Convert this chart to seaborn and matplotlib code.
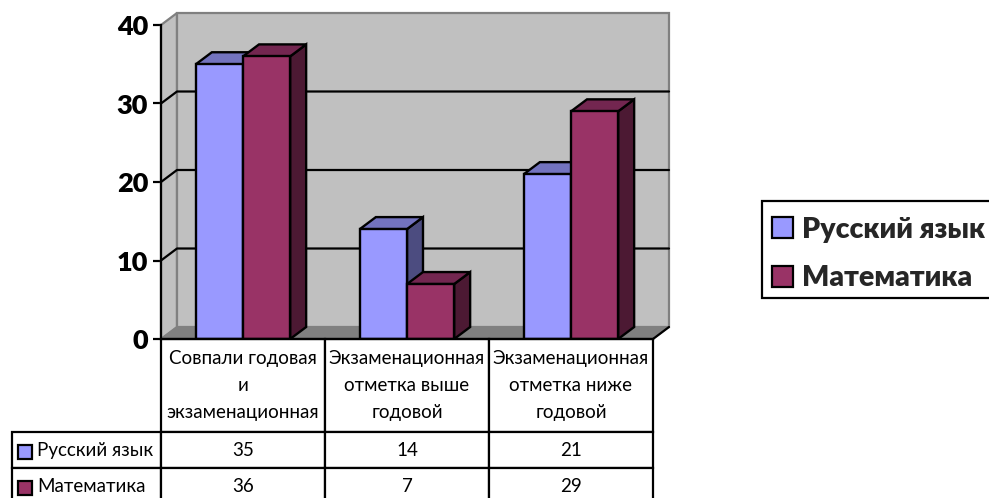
import pandas as pd
import seaborn as sns
import matplotlib.pyplot as plt
from matplotlib.patches import Polygon, Rectangle

# данные диаграммы
categories = ['Совпали годовая\nи\nэкзаменационная',
              'Экзаменационная\nотметка выше\nгодовой',
              'Экзаменационная\nотметка ниже\nгодовой']
series_names = ['Русский язык', 'Математика']
russian = [35, 14, 21]
math = [36, 7, 29]
y_ticks = [0, 10, 20, 30, 40]

W, H = 989, 498
FONT = ['Lato', 'Open Sans', 'DejaVu Sans']
front = {'Русский язык': '#9999ff', 'Математика': '#993366'}
top = {'Русский язык': '#7373bf', 'Математика': '#732650'}
side = {'Русский язык': '#4c4c80', 'Математика': '#4c1933'}

sns.set_theme(style='white')
plt.rcParams['font.family'] = FONT

df = pd.DataFrame({
    'cat': categories * 2,
    'val': russian + math,
    'ser': [series_names[0]] * 3 + [series_names[1]] * 3,
})

fig = plt.figure(figsize=(W / 100, H / 100), dpi=100, facecolor='white')
# пиксельная геометрия оси: x 161..653, y 339..25
AX_W, AX_H = 492, 314
ax = fig.add_axes([161 / W, 1 - 339 / H, AX_W / W, AX_H / H])
ax.patch.set_visible(False)

sns.barplot(data=df, x='cat', y='val', hue='ser', palette=front, saturation=1,
            width=0.575, gap=0, edgecolor='black', linewidth=1.7, ax=ax)
handles, labels = ax.get_legend_handles_labels()
ax.get_legend().remove()

ax.set_xlim(-0.5, 2.5)
ax.set_ylim(0, 40)
ax.set_xlabel('')
ax.set_ylabel('')
ax.set_xticks([])
ax.set_yticks(y_ticks)
ax.tick_params(axis='y', length=5.8, width=1.6, color='black', pad=3.5, left=True)
for lab in ax.get_yticklabels():
    lab.set_fontsize(19.5)
    lab.set_fontweight('heavy')
    lab.set_color('black')
for name, sp in ax.spines.items():
    sp.set_visible(name in ('left', 'bottom'))
    sp.set_linewidth(1.6)
    sp.set_color('black')
    sp.set_zorder(6)

# глубина "объёма" в единицах данных
DX = 16 / 164
DY = 12 / 7.85
x0, x1 = ax.get_xlim()
y0, y1 = ax.get_ylim()


def poly(pts, fc, ec, lw, z):
    ax.add_patch(Polygon(pts, closed=True, facecolor=fc, edgecolor=ec, linewidth=lw,
                         zorder=z, clip_on=False, joinstyle='miter'))


# стенки и пол
poly([(x0, y0), (x0 + DX, y0 + DY), (x0 + DX, y1 + DY), (x0, y1)], '#c0c0c0', '#808080', 1.6, 1)
poly([(x0 + DX, y0 + DY), (x1 + DX, y0 + DY), (x1 + DX, y1 + DY), (x0 + DX, y1 + DY)], '#c0c0c0', '#808080', 1.6, 1)
poly([(x0, y0), (x1, y0), (x1 + DX, y0 + DY), (x0 + DX, y0 + DY)], '#808080', '#808080', 1, 1.2)
ax.plot([x1, x1 + DX], [y0, y0 + DY], color='black', lw=1.6, zorder=1.3, clip_on=False)
for t in y_ticks[1:-1]:
    ax.plot([x0, x0 + DX, x1 + DX], [t, t + DY, t + DY], color='black', lw=1.6, zorder=1.5, clip_on=False)

# боковые и верхние грани столбиков
bars = [b for b in ax.patches if isinstance(b, Rectangle)]
for i, name in enumerate(series_names):
    for j in range(3):
        b = bars[i * 3 + j]
        bx, bw, bh = b.get_x(), b.get_width(), b.get_height()
        z = 3 + i
        poly([(bx + bw, 0), (bx + bw + DX, DY), (bx + bw + DX, bh + DY), (bx + bw, bh)], side[name], 'black', 1.7, z)
        poly([(bx, bh), (bx + DX, bh + DY), (bx + bw + DX, bh + DY), (bx + bw, bh)], top[name], 'black', 1.7, z)
        b.set_zorder(z + 0.5)
        b.set_clip_on(False)

# таблица данных под диаграммой (нижняя граница уходит за край картинки)
cell_text = [[''] + [c for c in categories],
             [series_names[0]] + [str(v) for v in russian],
             [series_names[1]] + [str(v) for v in math]]
col_px = [149, 164, 164, 164]
row_px = [93, 36, 36]
tb_w, tb_h = sum(col_px), sum(row_px)
tab = ax.table(cellText=cell_text, cellLoc='center', colWidths=[c / tb_w for c in col_px],
               bbox=[(12 - 161) / AX_W, -tb_h / AX_H, tb_w / AX_W, tb_h / AX_H], zorder=5)
tab.auto_set_font_size(False)
tab.set_fontsize(13.5)
for (r, c), cell in tab.get_celld().items():
    cell.set_height(row_px[r] / tb_h)
    cell.set_linewidth(1.6)
    cell.set_edgecolor('black')
    cell.set_facecolor('white')
    cell.get_text().set_fontfamily(FONT)
    cell.get_text().set_color('black')
    cell.get_text().set_linespacing(1.7)
    if r == 0 and c == 0:
        cell.visible_edges = ''
        cell.set_facecolor('none')
    if c == 0 and r > 0:
        cell.PAD = 25 / 149
        cell.get_text().set_ha('left')

# значки рядов в таблице
for name, py in zip(series_names, [445, 481]):
    fig.add_artist(Rectangle((18 / W, 1 - (py + 14) / H), 14 / W, 14 / H, transform=fig.transFigure,
                             facecolor=front[name], edgecolor='black', linewidth=1.6, zorder=10))

# рамка легенды отдельно: правый край срезается границей картинки
fig.add_artist(Rectangle((762 / W, 1 - 298 / H), 240 / W, 97 / H, transform=fig.transFigure,
                         facecolor='white', edgecolor='black', linewidth=1.6, zorder=8))
leg = fig.legend(handles, labels, loc='upper left', bbox_to_anchor=(762 / W, 1 - 207 / H),
                 prop={'family': FONT, 'weight': 'heavy', 'size': 20.5}, frameon=False,
                 borderpad=0.34, labelspacing=0.8,
                 handlelength=0.74, handleheight=0.74, handletextpad=0.34, borderaxespad=0)
leg.set_zorder(9)
for h in leg.legend_handles:
    h.set_edgecolor('black')
    h.set_linewidth(1.6)

fig.savefig('out.png', dpi=100, facecolor='white')
plt.close(fig)
